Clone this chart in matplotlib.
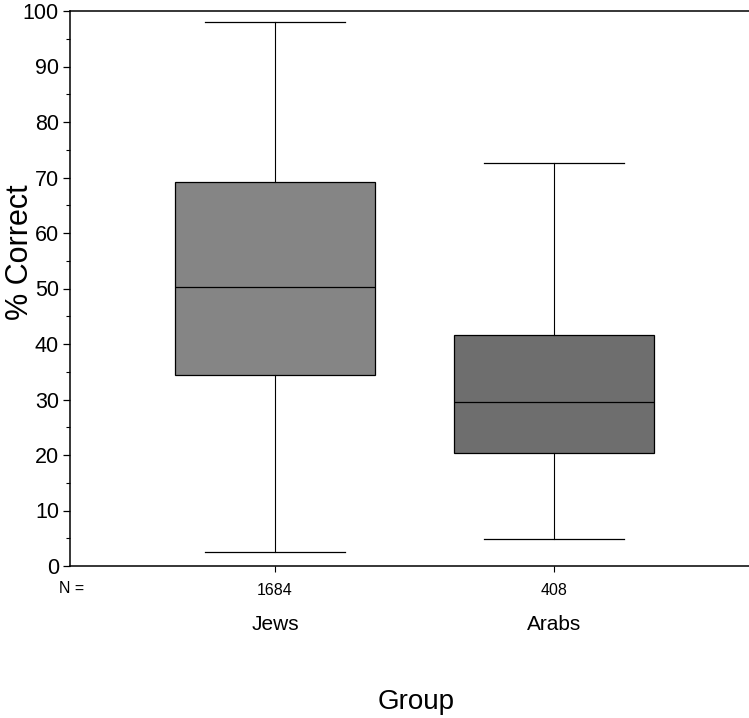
import matplotlib
matplotlib.use("Agg")
import matplotlib.pyplot as plt
from matplotlib.ticker import MultipleLocator

plt.rcParams["font.family"] = ["Liberation Sans", "DejaVu Sans"]

# box statistics (% correct)
groups = ["Jews", "Arabs"]
n_counts = ["1684", "408"]
whisker_low = [2.5, 4.9]
q1 = [34.5, 20.4]
median = [50.2, 29.6]
q3 = [69.2, 41.6]
whisker_high = [98.0, 72.7]
box_colors = ["#858585", "#6e6e6e"]

W, H = 749, 718
fig = plt.figure(figsize=(W / 100, H / 100), dpi=100)
ax = fig.add_axes([70 / W, 1 - 566 / H, (759 - 70) / W, (566 - 11) / H])

stats = []
for i, g in enumerate(groups):
    stats.append(dict(label=g, whislo=whisker_low[i], q1=q1[i], med=median[i],
                      q3=q3[i], whishi=whisker_high[i], fliers=[]))

positions = list(range(1, len(groups) + 1))
bp = ax.bxp(stats, positions=positions, widths=0.717, patch_artist=True,
            showfliers=False,
            boxprops=dict(linewidth=0.9, edgecolor="black"),
            medianprops=dict(color="black", linewidth=0.9),
            whiskerprops=dict(color="black", linewidth=0.8),
            capprops=dict(color="black", linewidth=0.9),
            capwidths=0.5)
for patch, c in zip(bp["boxes"], box_colors):
    patch.set_facecolor(c)

ax.set_xlim(0.265, 2.735)
ax.set_ylim(0, 100)
ax.yaxis.set_major_locator(MultipleLocator(10))
ax.yaxis.set_minor_locator(MultipleLocator(5))
ax.tick_params(axis="y", which="major", direction="out", length=5, width=0.9,
               labelsize=15.5, pad=3)
ax.tick_params(axis="y", which="minor", direction="out", length=3, width=0.8)
ax.set_xticks(positions)
ax.set_xticklabels(n_counts)
ax.tick_params(axis="x", direction="out", length=4, width=0.8, labelsize=11.5, pad=8)

ax.spines["right"].set_visible(False)
for s in ["left", "bottom", "top"]:
    ax.spines[s].set_linewidth(1.1)

xt = ax.get_xaxis_transform()
ax.text(0.272, -0.0414, "N =", transform=xt, ha="center", va="center", fontsize=11.5)
for p, g in zip(positions, groups):
    ax.text(p, -0.1063, g, transform=xt, ha="center", va="center", fontsize=15)

fig.text(416.5 / W, 1 - 702 / H, "Group", ha="center", va="center", fontsize=20)
fig.text(20 / W, 1 - 252 / H, "% Correct", ha="center", va="center",
         rotation=90, fontsize=22)

fig.savefig("out.png", dpi=100)
